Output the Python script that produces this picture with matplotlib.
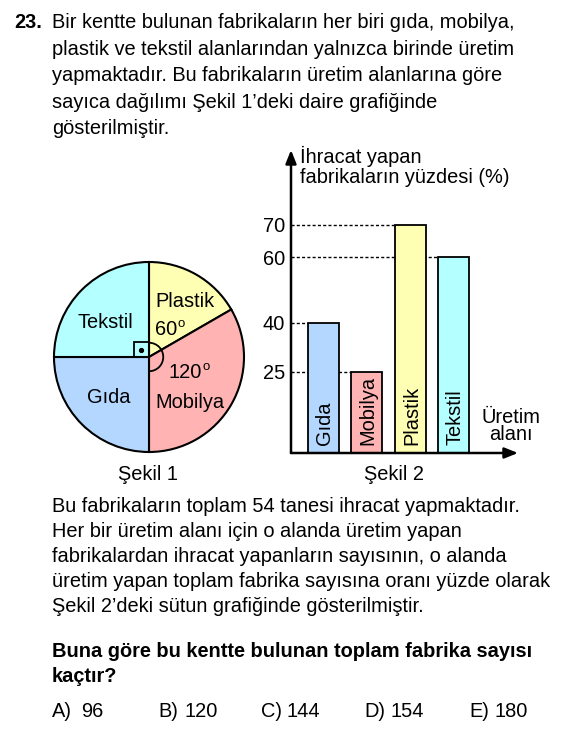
import matplotlib
matplotlib.use("Agg")
import matplotlib.pyplot as plt
from matplotlib.patches import Arc, Rectangle

plt.rcParams['font.family'] = ['Liberation Sans', 'DejaVu Sans']

W, H = 565, 729
FS = 14.4

# Sekil 1: pie slices, clockwise from the top (degrees)
pie_labels = ["Plastik", "Mobilya", "Gıda", "Tekstil"]
pie_angles = [60, 120, 90, 90]
pie_colors = ["#ffffb4", "#ffb3b3", "#b4d7ff", "#b4ffff"]

# Sekil 2: percentage of exporting factories
bar_labels = ["Gıda", "Mobilya", "Plastik", "Tekstil"]
bar_values = [40, 25, 70, 60]
bar_colors = ["#b4d7ff", "#ffb3b3", "#ffffb4", "#b4ffff"]
y_ticks = [25, 40, 60, 70]

top_lines = [
    "Bir kentte bulunan fabrikaların her biri gıda, mobilya,",
    "plastik ve tekstil alanlarından yalnızca birinde üretim",
    "yapmaktadır. Bu fabrikaların üretim alanlarına göre",
    "sayıca dağılımı Şekil 1’deki daire grafiğinde",
    "gösterilmiştir.",
]
bottom_lines = [
    "Bu fabrikaların toplam 54 tanesi ihracat yapmaktadır.",
    "Her bir üretim alanı için o alanda üretim yapan",
    "fabrikalardan ihracat yapanların sayısının, o alanda",
    "üretim yapan toplam fabrika sayısına oranı yüzde olarak",
    "Şekil 2’deki sütun grafiğinde gösterilmiştir.",
]
bold_lines = [
    "Buna göre bu kentte bulunan toplam fabrika sayısı",
    "kaçtır?",
]
choice_keys = ["A)", "B)", "C)", "D)", "E)"]
choice_vals = ["96", "120", "144", "154", "180"]


def px_box(x0, y0, x1, y1):
    return [x0 / W, 1 - y1 / H, (x1 - x0) / W, (y1 - y0) / H]


fig = plt.figure(figsize=(W / 100, H / 100), dpi=100)

# pie chart
cx, cy, r = 149, 357, 95
axp = fig.add_axes(px_box(cx - 1.25 * r, cy - 1.25 * r, cx + 1.25 * r, cy + 1.25 * r))
axp.pie(pie_angles, colors=pie_colors, startangle=90, counterclock=False,
        wedgeprops=dict(edgecolor="black", linewidth=1.5))
axp.set_xlim(-1.25, 1.25)
axp.set_ylim(-1.25, 1.25)
s = 15 / r
axp.add_patch(Rectangle((-s, 0), s, s, fill=False, edgecolor="black", lw=1.3, zorder=5))
axp.plot([-s / 2], [s / 2], "o", color="black", ms=2.8, zorder=6)
axp.add_patch(Arc((0, 0), 0.3, 0.3, theta1=-90, theta2=90, color="black", lw=1.3, zorder=5))

# bar chart
x0, x1, y0, y1 = 291, 518, 453, 150
ux, uy = 43.3, 3.26
first = 323.5
axb = fig.add_axes(px_box(x0, y1, x1, y0))
left = -(first - x0) / ux
axb.set_xlim(left, left + (x1 - x0) / ux)
axb.set_ylim(0, (y0 - y1) / uy)
pos = list(range(len(bar_values)))
bw = 0.72
axb.bar(pos, bar_values, width=bw, color=bar_colors, edgecolor="black",
        linewidth=1.3, zorder=3)
for p, v in zip(pos, bar_values):
    axb.plot([left, p - bw / 2], [v, v], color="black", lw=1.0,
             dashes=(2.2, 1.6), zorder=2)
for p, lab in zip(pos, bar_labels):
    axb.text(p + 0.03, 2.45, lab, rotation=90, ha="center", va="bottom",
             fontsize=FS, zorder=4)
for sp in axb.spines.values():
    sp.set_visible(False)
axb.set_xticks([])
axb.set_yticks(y_ticks)
axb.tick_params(axis="y", length=0, pad=4.3, labelsize=FS)
aprops = dict(arrowstyle="-|>,head_length=0.8,head_width=0.32", lw=1.8,
              color="black", shrinkA=0, shrinkB=0)
axb.annotate("", xy=(1, 0), xytext=(0, 0), xycoords="axes fraction",
             arrowprops=aprops, annotation_clip=False)
axb.annotate("", xy=(0, 1), xytext=(0, 0), xycoords="axes fraction",
             arrowprops=aprops, annotation_clip=False)

# text layer in pixel coordinates
bg = fig.add_axes([0, 0, 1, 1], zorder=10)
bg.set_xlim(0, W)
bg.set_ylim(H, 0)
bg.axis("off")
bg.patch.set_alpha(0)


def put(x, y, t, **kw):
    kw.setdefault("fontsize", FS)
    kw.setdefault("va", "baseline")
    bg.text(x, y, t, **kw)


put(14.5, 28, "23.", fontweight="bold")
for i, t in enumerate(top_lines):
    put(52, 28 + 26.5 * i, t)

# pie labels
put(155, 307, pie_labels[0])
put(155, 335, "60")
put(178, 327, "o", fontsize=9.5)
put(168, 378, "120")
put(202.5, 370, "o", fontsize=9.5)
put(155, 408, pie_labels[1])
put(87, 403, pie_labels[2])
put(78, 328, pie_labels[3])
put(148, 480, "Şekil 1", ha="center")

# bar chart labels
put(300, 163, "İhracat yapan")
put(300, 183, "fabrikaların yüzdesi (%)")
put(511, 440, "Üretim\nalanı", ha="center", multialignment="center",
    linespacing=0.9)
put(394, 480, "Şekil 2", ha="center")

for i, t in enumerate(bottom_lines):
    put(52, 512 + 25 * i, t)
for i, t in enumerate(bold_lines):
    put(52, 657 + 25 * i, t, fontweight="bold")

key_x = [52, 158, 261, 364, 469]
val_x = [81, 185, 286, 390, 495]
for kx, vx, k, v in zip(key_x, val_x, choice_keys, choice_vals):
    put(kx, 717, k)
    put(vx, 717, v)

fig.savefig("out.png", dpi=100)
